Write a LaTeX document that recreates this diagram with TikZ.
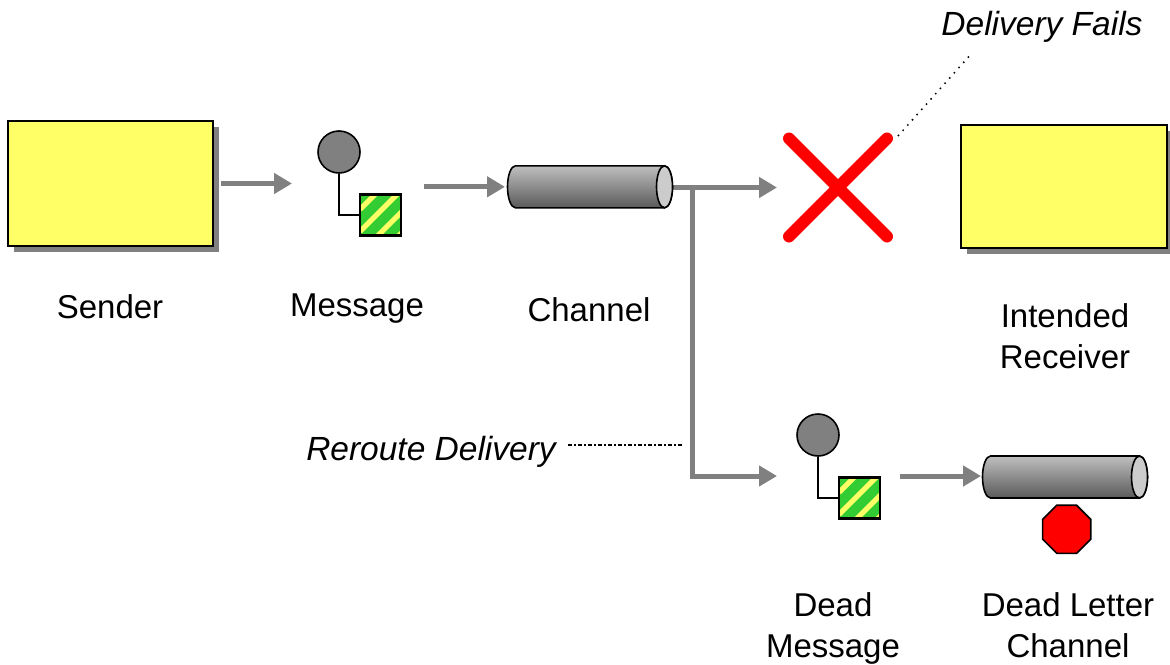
\documentclass[tikz,border=0pt]{standalone}
\usepackage{fontspec}
\setmainfont{Liberation Sans}
\usetikzlibrary{arrows.meta,shadows,shapes.geometric,shapes.misc}
\definecolor{flowgray}{HTML}{808080}
\definecolor{stickyyellow}{HTML}{FFFF66}
\definecolor{bodygreen}{HTML}{33CC33}
\tikzset{
    actorbox/.style={draw=black,line width=2pt,fill=stickyyellow,inner sep=0pt,
        drop shadow={shadow xshift=6pt,shadow yshift=-6pt,fill=flowgray,opacity=1}},
    flow/.style={draw=flowgray,line width=5pt,-{Triangle[length=18pt,width=20pt]}},
    noteline/.style={draw=black,line width=1.5pt,dash pattern=on 1.5pt off 5.5pt},
    noteblock/.style={draw=black,line width=1.5pt,dash pattern=on 4pt off 2pt on 2pt off 2pt},
    msghead/.style={circle,draw=black,line width=1.6pt,fill=flowgray,minimum size=42pt,inner sep=0pt},
    msgbody/.style={rectangle,draw=black,line width=2.4pt,fill=bodygreen,minimum size=41pt,inner sep=0pt,
        path picture={
            \foreach \d in {15,37,59,80}
                \draw[stickyyellow,line width=5pt] (\d-20.5,-20.5) -- (-20.5,\d-20.5);
        }},
    channelbox/.style={rectangle,minimum width=165pt,minimum height=42pt,inner sep=0pt,outer sep=0pt},
    label/.style={font=\fontsize{33}{41}\selectfont,align=center,inner sep=0pt},
    note/.style={font=\fontsize{33.5}{41}\selectfont\itshape,inner sep=0pt},
}
\newcommand\MessageIcon[3]{%
    \node[msghead] (#1head) at (#2,#3) {};
    \node[msgbody] (#1body) at ([shift={(41.5,63)}]#1head.center) {};
    \draw[black,line width=1.6pt] (#1head.south) |- (#1body.west);
}
\newcommand\ChannelPipe[3]{%
    \node[channelbox] (#1) at (#2,#3) {};
    \shadedraw[top color=black!25,bottom color=black!65,draw=black,line width=1.6pt]
        ([xshift=8pt]#1.north west) arc[x radius=8pt,y radius=21pt,start angle=90,end angle=270]
        -- ([xshift=-8pt]#1.south east) arc[x radius=8pt,y radius=21pt,start angle=-90,end angle=90] -- cycle;
    \draw[black,line width=1.6pt,fill=black!20] ([xshift=-8pt]#1.east) ellipse [x radius=8pt,y radius=21pt];
}
\begin{document}
\begin{tikzpicture}[x=1pt,y=-1pt]
    \useasboundingbox (0,0) rectangle (1170,664);
    \coordinate (msgonein) at (292,183.5);
    \coordinate (msgoneout) at (424,186.8);
    \coordinate (branch) at (692,187.5);
    \coordinate (msgtwoin) at (777,476);
    \coordinate (msgtwoout) at (900,476);
    % senders and receivers
    \node[actorbox,minimum width=205pt,minimum height=125pt] (sender) at (110.5,183.5) {};
    \node[actorbox,minimum width=206pt,minimum height=123pt] (receiver) at (1063.5,186.5) {};
    \node[label] (senderlabel) at (110,307) {Sender};
    \node[label] (receiverlabel) at (1065,336) {Intended\\Receiver};
    % flows
    \draw[flow,shorten <=7pt] (sender.east) -- (msgonein);
    \MessageIcon{msgone}{339}{152}
    \node[label] (msgonelabel) at (357,308.5) {Message};
    \draw[flow] (msgoneout) -- (505,186.8) coordinate (chanin);
    \node[draw=red,line width=12pt,line cap=round,cross out,minimum size=98pt,inner sep=0pt,outer sep=0pt] (fail) at (838,187.5) {};
    \draw[flow,-] (672,187.5) -- (branch);
    \draw[flow,shorten >=12pt] (branch) -- (fail.west);
    \ChannelPipe{chan}{590}{186.8}
    \node[label] (chanlabel) at (589,310) {Channel};
    \draw[flow] (branch) |- (msgtwoin);
    \MessageIcon{msgtwo}{818}{435}
    \node[label] (msgtwolabel) at (833,628.5) {Dead\\Message};
    \draw[flow] (msgtwoout) -- (981,476) coordinate (deadin);
    \ChannelPipe{deadchan}{1065}{477}
    \node[regular polygon,regular polygon sides=8,draw=black,line width=1.6pt,fill=red,minimum size=52pt,inner sep=0pt] (stopsign) at (1066.7,529.3) {};
    \node[label] (deadchanlabel) at (1068,625) {Dead Letter\\Channel};
    % notes
    \node[note] (faillabel) at (1042,27) {Delivery Fails};
    \coordinate (failnote) at (898,136);
    \coordinate (failfoot) at (972,53);
    \draw[noteline] (failnote) -- (failfoot);
    \node[note] (reroutelabel) at (431,452) {Reroute Delivery};
    \coordinate (rerouteend) at (682,445);
    \draw[noteblock,shorten <=12pt] (reroutelabel.east |- rerouteend) -- (rerouteend);
\end{tikzpicture}
\end{document}
